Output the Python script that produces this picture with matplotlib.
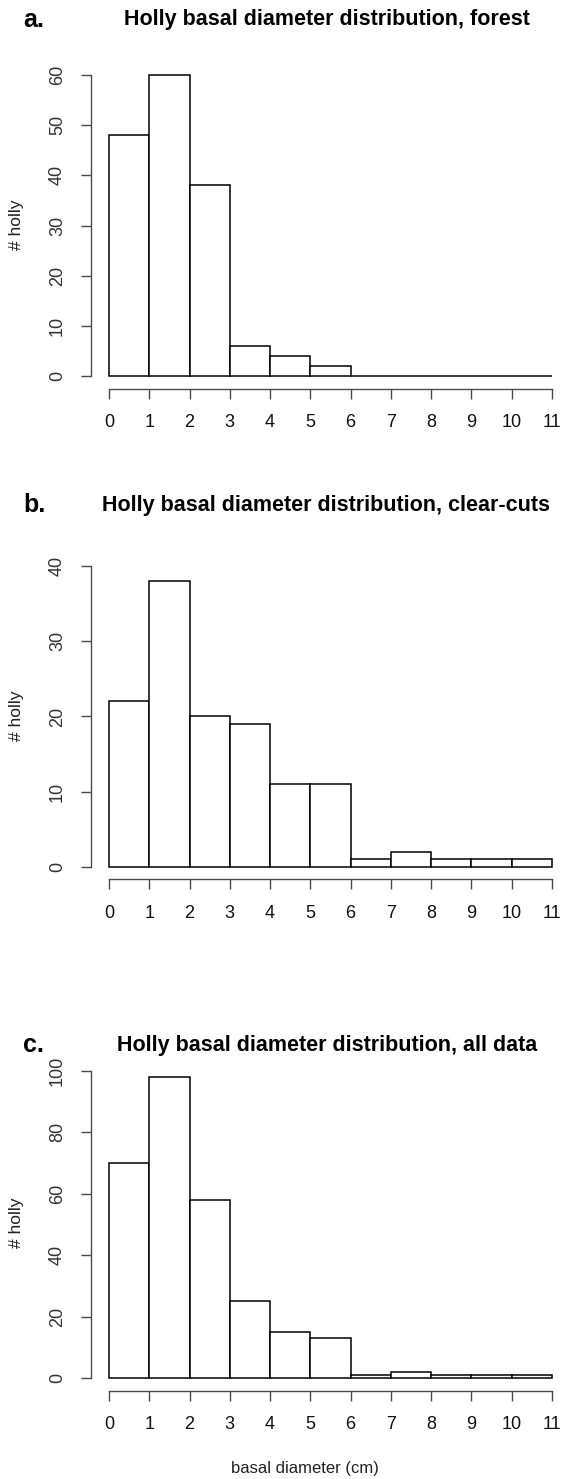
import matplotlib
matplotlib.use('Agg')
import matplotlib.pyplot as plt

plt.rcParams['font.family'] = ['Liberation Sans', 'DejaVu Sans']

# 直径分组边界 (cm)
bin_edges = [0, 1, 2, 3, 4, 5, 6, 7, 8, 9, 10, 11]
x_tick_labels = ['0', '1', '2', '3', '4', '5', '6', '7', '8', '9', '10', '11']

# 每组的冬青数量
forest_counts = [48, 60, 38, 6, 4, 2, 0, 0, 0, 0, 0]
clearcut_counts = [22, 38, 20, 19, 11, 11, 1, 2, 1, 1, 1]
all_counts = [70, 98, 58, 25, 15, 13, 1, 2, 1, 1, 1]

forest_yticks = [0, 10, 20, 30, 40, 50, 60]
clearcut_yticks = [0, 10, 20, 30, 40]
all_yticks = [0, 20, 40, 60, 80, 100]

panel_letters = ['a.', 'b.', 'c.']
panel_titles = [
    'Holly basal diameter distribution, forest',
    'Holly basal diameter distribution, clear-cuts',
    'Holly basal diameter distribution, all data',
]

W, H = 564, 1479
AXIS_COLOR = '#4a4a4a'

fig = plt.figure(figsize=(W / 100, H / 100), dpi=100)


def draw_panel(counts, yticks, y0_px, ytop_px, letter, title, title_left, title_y, ylab_y):
    left_px, right_px = 109, 552
    ax = fig.add_axes([left_px / W, 1 - y0_px / H,
                       (right_px - left_px) / W, (y0_px - ytop_px) / H])
    ax.bar(bin_edges[:-1], counts, width=1, align='edge',
           facecolor='white', edgecolor='black', linewidth=1.1, clip_on=False)
    ax.set_xlim(bin_edges[0], bin_edges[-1])
    ax.set_ylim(yticks[0], yticks[-1])

    # R 风格：坐标轴与图形分离
    for s in ['top', 'right']:
        ax.spines[s].set_visible(False)
    ax.spines['left'].set_position(('outward', 13))
    ax.spines['bottom'].set_position(('outward', 9))
    ax.spines['left'].set_bounds(yticks[0], yticks[-1])
    ax.spines['bottom'].set_bounds(bin_edges[0], bin_edges[-1])
    for s in ['left', 'bottom']:
        ax.spines[s].set_color(AXIS_COLOR)
        ax.spines[s].set_linewidth(1.0)

    ax.set_xticks(bin_edges, x_tick_labels)
    ax.set_yticks(yticks, [str(v) for v in yticks], rotation=90, va='center')
    ax.tick_params(axis='x', length=7.5, width=1.0, color=AXIS_COLOR,
                   labelsize=13, pad=11, labelcolor='#111111')
    ax.tick_params(axis='y', length=7, width=1.0, color=AXIS_COLOR,
                   labelsize=13, pad=11, labelcolor='#333333')
    ax.patch.set_alpha(0)

    fig.text(23 / W, 1 - title_y / H, letter, fontsize=18, fontweight='bold',
             ha='left', va='center')
    fig.text(title_left / W, 1 - title_y / H, title, fontsize=15.5,
             fontweight='bold', ha='left', va='center')
    fig.text(17 / W, 1 - ylab_y / H, '# holly', fontsize=12.5, rotation=90,
             ha='center', va='center', color='#222222')
    return ax


draw_panel(forest_counts, forest_yticks, 376, 75, panel_letters[0],
           panel_titles[0], 124, 20, 225)
draw_panel(clearcut_counts, clearcut_yticks, 867, 566, panel_letters[1],
           panel_titles[1], 102, 505, 716)
draw_panel(all_counts, all_yticks, 1378, 1071, panel_letters[2],
           panel_titles[2], 117, 1045, 1223)

fig.text(305 / W, 1 - 1468 / H, 'basal diameter (cm)', fontsize=12,
         ha='center', va='center', color='#222222')

fig.savefig('out.png', dpi=100)
